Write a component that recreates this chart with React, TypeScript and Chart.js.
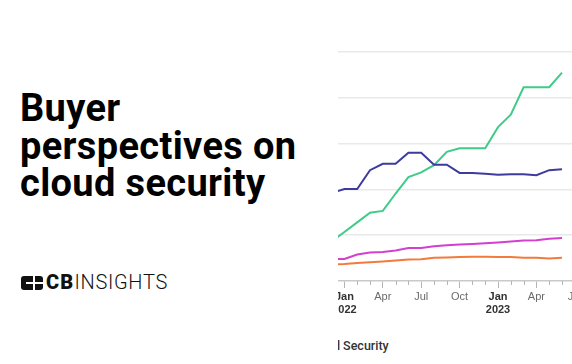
import React, { useEffect, useRef } from 'react';
import { Chart, registerables } from 'chart.js';
Chart.register(...registerables);

// month index: 0 = Jan 2022
const monthIndex = [-1, 0, 1, 2, 3, 4, 5, 6, 7, 8, 9, 10, 11, 12, 13, 14, 15, 16, 17];
const seriesBlue = [19.2, 20.1, 20.1, 24.2, 25.6, 25.6, 28.0, 28.0, 25.4, 25.4, 23.6, 23.6, 23.4, 23.2, 23.3, 23.3, 23.1, 24.2, 24.4];
const seriesGreen = [8.6, 10.7, 12.8, 14.9, 15.3, 19.1, 22.7, 23.7, 25.3, 28.2, 29.0, 29.0, 29.0, 33.6, 36.3, 42.3, 42.3, 42.3, 45.5];
const seriesMagenta = [4.8, 4.8, 5.8, 6.2, 6.35, 6.65, 7.2, 7.2, 7.6, 7.8, 7.95, 8.1, 8.25, 8.4, 8.6, 8.85, 8.9, 9.2, 9.4];
const seriesOrange = [3.6, 3.7, 3.95, 4.1, 4.25, 4.45, 4.7, 4.75, 5.1, 5.15, 5.25, 5.3, 5.3, 5.25, 5.25, 5.1, 5.05, 4.9, 5.1];

const xTickLabels: (string | string[])[] = [
  ['Jan', '2022'], '', '', 'Apr', '', '', 'Jul', '', '', 'Oct', '', '',
  ['Jan', '2023'], '', '', 'Apr', '', '', 'Jul', '',
];
const yTickValues = [0, 10, 20, 30, 40, 50];

const FONT = "'Liberation Sans', Arial, sans-serif";

function ChartBox() {
  const ref = useRef<HTMLCanvasElement | null>(null);
  useEffect(() => {
    if (!ref.current) return;
    const mk = (vals: number[]) => vals.map((v, i) => ({ x: monthIndex[i], y: v }));
    const minorTicks = {
      id: 'minorTicks',
      afterDraw(chart: any) {
        const s = chart.scales.x;
        const ctx = chart.ctx;
        ctx.save();
        ctx.strokeStyle = '#b5b5b5';
        ctx.lineWidth = 1;
        s.ticks.forEach((t: any, i: number) => {
          const lbl = xTickLabels[t.value];
          if (lbl === '' || lbl === undefined) {
            const px = Math.round(s.getPixelForTick(i)) + 0.5;
            ctx.beginPath();
            ctx.moveTo(px, chart.chartArea.bottom);
            ctx.lineTo(px, chart.chartArea.bottom + 4);
            ctx.stroke();
          }
        });
        ctx.restore();
      },
    };
    const chart = new Chart(ref.current, {
      type: 'line',
      data: {
        datasets: [
          { data: mk(seriesBlue), borderColor: '#3d3b9e', borderWidth: 2, pointRadius: 0, tension: 0 },
          { data: mk(seriesGreen), borderColor: '#3fcb88', borderWidth: 2, pointRadius: 0, tension: 0 },
          { data: mk(seriesMagenta), borderColor: '#d43fd0', borderWidth: 2, pointRadius: 0, tension: 0 },
          { data: mk(seriesOrange), borderColor: '#f47a3c', borderWidth: 2, pointRadius: 0, tension: 0 },
        ],
      },
      options: {
        animation: false,
        responsive: false,
        layout: { padding: { top: 10, left: 0, right: 0, bottom: 0 } },
        plugins: { legend: { display: false }, tooltip: { enabled: false } },
        scales: {
          x: {
            type: 'linear',
            min: -0.5,
            max: 19.5,
            afterBuildTicks: (scale: any) => {
              scale.ticks = xTickLabels.map((_, i) => ({ value: i }));
            },
            afterFit: (scale: any) => { scale.height = 40; },
            border: { display: true, color: '#c9c9c9', width: 1.5 },
            grid: {
              drawOnChartArea: false,
              tickLength: 7,
              tickColor: (c: any) => (xTickLabels[c.tick?.value] ? '#b5b5b5' : 'rgba(0,0,0,0)'),
            },
            ticks: {
              autoSkip: false,
              maxRotation: 0,
              padding: 2,
              callback: (v: any) => xTickLabels[v as number] ?? '',
              color: (c: any) => (Array.isArray(xTickLabels[c.tick?.value]) ? '#333333' : '#6b6b6b'),
              font: (c: any) => ({
                family: FONT,
                size: 11,
                weight: Array.isArray(xTickLabels[c.tick?.value]) ? 'bold' : 'normal',
              }),
            },
          },
          y: {
            min: 0,
            max: 50,
            afterBuildTicks: (scale: any) => {
              scale.ticks = yTickValues.map((v) => ({ value: v }));
            },
            afterFit: (scale: any) => { scale.width = 60; },
            border: { display: false },
            grid: {
              color: (c: any) => (c.tick?.value === 0 ? 'rgba(0,0,0,0)' : '#e9e9e9'),
              lineWidth: 1.5,
              drawTicks: false,
            },
            ticks: { display: false },
          },
        },
      },
      plugins: [minorTicks],
    } as any);
    return () => chart.destroy();
  }, []);
  return <canvas ref={ref} width={316} height={279} style={{ position: 'absolute', left: -60, top: 42 }} />;
}

export default function App() {
  return (
    <div style={{ position: 'fixed', left: 0, top: 0, width: 572, height: 364, overflow: 'hidden', background: '#fff' }}>
      <div
        style={{
          position: 'absolute', left: 20, top: 90, fontFamily: 'Roboto, sans-serif', fontWeight: 700,
          fontSize: 38, lineHeight: '37.5px', letterSpacing: 0.35, color: '#000', whiteSpace: 'nowrap',
        }}
      >
        <div>Buyer</div>
        <div>perspectives on</div>
        <div>cloud security</div>
      </div>
      <div style={{ position: 'absolute', left: 21, top: 276, height: 14, display: 'flex', alignItems: 'center' }}>
        <div style={{ position: 'relative', width: 22, height: 14, background: '#111', borderRadius: 3 }}>
          <div style={{ position: 'absolute', left: 12, top: 0, width: 2, height: 14, background: '#fff' }} />
          <div style={{ position: 'absolute', left: 5, top: 6, width: 17, height: 2, background: '#fff' }} />
        </div>
      </div>
      <div
        style={{
          position: 'absolute', left: 46, top: 269, fontFamily: 'Roboto, sans-serif', fontSize: 20,
          lineHeight: '27px', color: '#111', whiteSpace: 'nowrap',
        }}
      >
        <span style={{ fontWeight: 900, letterSpacing: 1.2 }}>CB</span>
        <span style={{ fontWeight: 300, letterSpacing: 0.7 }}>INSIGHTS</span>
      </div>
      <div style={{ position: 'absolute', left: 338, top: 0, width: 234, height: 364, overflow: 'hidden' }}>
        <ChartBox />
        <div
          style={{
            position: 'absolute', left: 0, top: 337, fontFamily: 'Roboto, sans-serif', fontWeight: 500,
            fontSize: 12.5, lineHeight: '17px', color: '#333', whiteSpace: 'nowrap',
          }}
        >
          <span style={{ display: 'inline-block', width: 2, overflow: 'hidden', direction: 'rtl', verticalAlign: 'bottom' }}>d</span>
          <span> Security</span>
        </div>
      </div>
    </div>
  );
}
